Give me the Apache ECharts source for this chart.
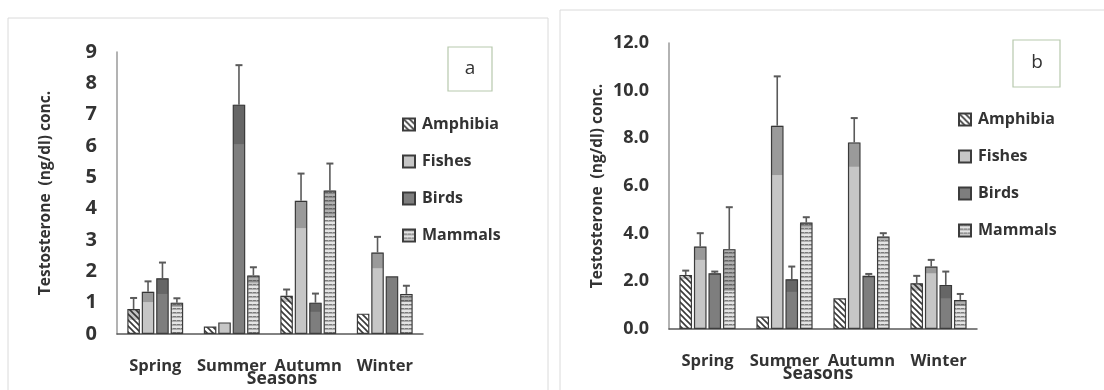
<!DOCTYPE html>
<html>
<head>
<meta charset="utf-8">
<script src="https://cdn.jsdelivr.net/npm/echarts@6/dist/echarts.min.js"></script>
<style>html,body{margin:0;padding:0;background:#fff}#c{width:1104px;height:390px}</style>
</head>
<body>
<div id="c"></div>
<script>
const seasons = ['Spring', 'Summer', 'Autumn', 'Winter'];
const groups = ['Amphibia', 'Fishes', 'Birds', 'Mammals'];

// Panel a values
const aAmphibia = [0.8, 0.24, 1.22, 0.65];
const aFishes   = [1.35, 0.37, 4.25, 2.6];
const aBirds    = [1.78, 7.32, 1.0, 1.84];
const aMammals  = [1.0, 1.87, 4.58, 1.28];
const aAmphibiaErr = [0.35, 0, 0.2, 0];
const aFishesErr   = [0.33, 0, 0.87, 0.5];
const aBirdsErr    = [0.5, 1.26, 0.29, 0];
const aMammalsErr  = [0.14, 0.26, 0.86, 0.26];

// Panel b values
const bAmphibia = [2.27, 0.52, 1.29, 1.92];
const bFishes   = [3.46, 8.53, 7.83, 2.62];
const bBirds    = [2.34, 2.09, 2.23, 1.85];
const bMammals  = [3.35, 4.47, 3.88, 1.22];
const bAmphibiaErr = [0.18, 0, 0, 0.31];
const bFishesErr   = [0.56, 2.07, 1.02, 0.28];
const bBirdsErr    = [0.07, 0.53, 0.08, 0.56];
const bMammalsErr  = [1.76, 0.22, 0.14, 0.25];

const aTicks = [0,1,2,3,4,5,6,7,8,9];
const bTicks = [0,2,4,6,8,10,12];

// patterns
function makeHatch() {
  const c = document.createElement('canvas'); c.width = 6; c.height = 6;
  const g = c.getContext('2d');
  g.fillStyle = '#ffffff'; g.fillRect(0,0,6,6);
  g.strokeStyle = '#3a3a3a'; g.lineWidth = 1.6;
  g.beginPath();
  g.moveTo(-1,-1); g.lineTo(7,7);
  g.moveTo(-1,5); g.lineTo(1,7);
  g.moveTo(5,-1); g.lineTo(7,1);
  g.stroke();
  return {image: c, repeat: 'repeat'};
}
function makeStripes() {
  const c = document.createElement('canvas'); c.width = 4; c.height = 4;
  const g = c.getContext('2d');
  g.fillStyle = '#e4e4e4'; g.fillRect(0,0,4,4);
  g.fillStyle = '#7a7a7a'; g.fillRect(0,0,4,1.5);
  g.fillStyle = '#aaaaaa'; g.fillRect(0,0,1,1.5);
  return {image: c, repeat: 'repeat'};
}
const colors = [makeHatch(), '#c6c6c6', '#7e7e7e', makeStripes()];

const catGap = 0.27, barGap = 0.15;

function errRender(params, api) {
  const cat = api.value(0), val = api.value(1), err = api.value(2), si = api.value(3);
  if (!(err > 0)) return null;
  const band = api.size([1, 0])[0];
  const groupW = band * (1 - catGap);
  const b = groupW / (4 + 3 * barGap);
  const x0 = api.coord([cat, 0])[0];
  const cx = x0 - groupW / 2 + b / 2 + si * b * (1 + barGap);
  const yTop = api.coord([cat, val + err])[1];
  const yVal = api.coord([cat, val])[1];
  const yLow = api.coord([cat, Math.max(0, val - err)])[1];
  return {
    type: 'group',
    children: [
      {type: 'rect', shape: {x: cx - b / 2 + 1, y: yVal, width: b - 2, height: yLow - yVal},
       style: {fill: 'rgba(40,40,40,0.28)'}},
      {type: 'line', shape: {x1: cx, y1: yVal, x2: cx, y2: yTop},
       style: {stroke: '#5a5a5a', lineWidth: 1.6}},
      {type: 'line', shape: {x1: cx - 3.5, y1: yTop, x2: cx + 3.5, y2: yTop},
       style: {stroke: '#5a5a5a', lineWidth: 2}}
    ]
  };
}

function errData(errs, vals) {
  const out = [];
  errs.forEach((e, si) => e.forEach((v, ci) => out.push([ci, vals[si][ci], v, si])));
  return out;
}

const aVals = [aAmphibia, aFishes, aBirds, aMammals];
const aErrs = [aAmphibiaErr, aFishesErr, aBirdsErr, aMammalsErr];
const bVals = [bAmphibia, bFishes, bBirds, bMammals];
const bErrs = [bAmphibiaErr, bFishesErr, bBirdsErr, bMammalsErr];

const labelColor = '#333';
const font = 'Open Sans';

function xAxisCfg(gi, margin) {
  return {
    type: 'category', gridIndex: gi, data: seasons,
    axisLine: {lineStyle: {color: '#5a5a5a', width: 1.5}},
    axisTick: {show: false},
    axisLabel: {interval: 0, hideOverlap: false, margin: margin, color: labelColor, fontFamily: font, fontWeight: 'bold', fontSize: 16.5}
  };
}
function yAxisCfg(gi, max, interval, fmt, fs) {
  return {
    type: 'value', gridIndex: gi, min: 0, max: max, interval: interval,
    splitLine: {show: false},
    axisLine: {show: true, lineStyle: {color: '#9a9a9a', width: 1.5}},
    axisTick: {show: false},
    axisLabel: {margin: 20, color: labelColor, fontFamily: font, fontWeight: 'bold', fontSize: fs, formatter: fmt},
    name: 'Testosterone  (ng/dl) conc.', nameLocation: 'middle', nameGap: 63,
    nameTextStyle: {color: labelColor, fontFamily: font, fontWeight: 'bold', fontSize: 15.5}
  };
}

const series = [];
[[aVals, 0], [bVals, 1]].forEach(([vals, gi]) => {
  groups.forEach((name, si) => {
    series.push({
      name: name, type: 'bar', xAxisIndex: gi, yAxisIndex: gi,
      data: vals[si], barCategoryGap: (catGap * 100) + '%', barGap: (barGap * 100) + '%',
      itemStyle: {color: colors[si], borderColor: '#3c3c3c', borderWidth: 1.2},
      emphasis: {disabled: true}
    });
  });
});
series.push({type: 'custom', xAxisIndex: 0, yAxisIndex: 0, z: 5, renderItem: errRender,
  data: errData(aErrs, aVals), encode: {x: 0, y: 1}, silent: true});
series.push({type: 'custom', xAxisIndex: 1, yAxisIndex: 1, z: 5, renderItem: errRender,
  data: errData(bErrs, bVals), encode: {x: 0, y: 1}, silent: true});

function legendCfg(left, top) {
  return {
    orient: 'vertical', left: left, top: top, data: groups, padding: 0,
    itemWidth: 12, itemHeight: 12, itemGap: 20, icon: 'rect',
    selectedMode: false,
    textStyle: {color: labelColor, fontFamily: font, fontWeight: 'bold', fontSize: 16, lineHeight: 17, padding: [0, 0, 0, 2]}
  };
}

const option = {
  animation: false,
  backgroundColor: '#fff',
  grid: [
    {left: 117, top: 52, width: 306, height: 282},
    {left: 669, top: 43, width: 308, height: 286}
  ],
  xAxis: [xAxisCfg(0, 24), xAxisCfg(1, 24)],
  yAxis: [
    yAxisCfg(0, 9, 1, v => String(v), 20),
    yAxisCfg(1, 12, 2, v => v.toFixed(1), 18)
  ],
  legend: [legendCfg(402, 116), legendCfg(958, 111)],
  series: series,
  graphic: [
    {type: 'rect', shape: {x: 8, y: 18, width: 540, height: 390}, style: {fill: 'none', stroke: '#dadada', lineWidth: 1}, silent: true, z: -1},
    {type: 'rect', shape: {x: 560, y: 10, width: 560, height: 400}, style: {fill: 'none', stroke: '#dadada', lineWidth: 1}, silent: true, z: -1},
    {type: 'rect', shape: {x: 448, y: 47, width: 44, height: 44}, style: {fill: '#fff', stroke: '#b7c9ad', lineWidth: 1.2}, silent: true},
    {type: 'text', x: 470, y: 69, style: {text: 'a', fill: '#333', font: '19px "Open Sans"', align: 'center', verticalAlign: 'middle'}, silent: true},
    {type: 'rect', shape: {x: 1013, y: 40, width: 47, height: 47}, style: {fill: '#fff', stroke: '#b7c9ad', lineWidth: 1.2}, silent: true},
    {type: 'text', x: 1037, y: 63, style: {text: 'b', fill: '#333', font: '19px "Open Sans"', align: 'center', verticalAlign: 'middle'}, silent: true},
    {type: 'text', x: 282, y: 379, style: {text: 'Seasons', fill: '#333', font: 'bold 17.5px "Open Sans"', align: 'center', verticalAlign: 'middle'}, silent: true},
    {type: 'text', x: 818, y: 374, style: {text: 'Seasons', fill: '#333', font: 'bold 17.5px "Open Sans"', align: 'center', verticalAlign: 'middle'}, silent: true}
  ]
};

const chart = echarts.init(document.getElementById('c'), null, {renderer: 'canvas'});
chart.setOption(option);
</script>
</body>
</html>
